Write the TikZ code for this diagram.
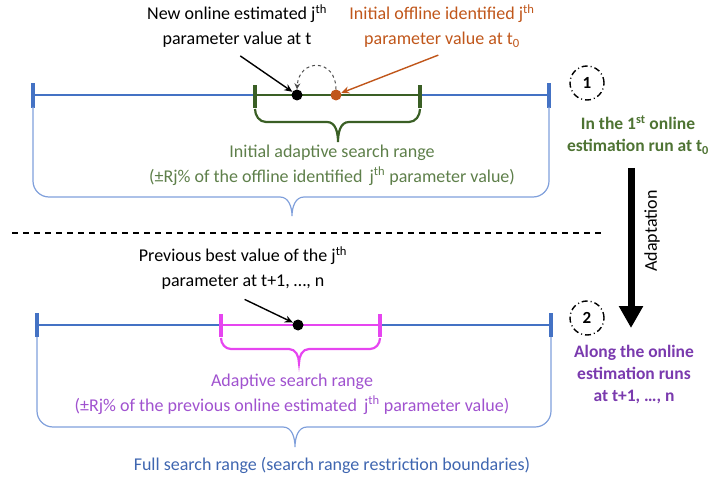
\documentclass[tikz,border=0pt]{standalone}
\usepackage{fontspec}
\setmainfont{Carlito}
\usetikzlibrary{arrows.meta}
\definecolor{lineblue}{HTML}{4472C4}
\definecolor{braceblue}{HTML}{7F9FDB}
\definecolor{textblue}{HTML}{3F66B0}
\definecolor{rangegreen}{HTML}{3A5F25}
\definecolor{textgreen}{HTML}{5E7F4A}
\definecolor{boldgreen}{HTML}{4E7333}
\definecolor{offbrown}{HTML}{C0561A}
\definecolor{rangemag}{HTML}{E645F0}
\definecolor{textpurple}{HTML}{A052CF}
\definecolor{boldpurple}{HTML}{7A3AAE}
\tikzset{
  lbl/.style={align=center, inner sep=0pt, font=\fontsize{18}{25}\selectfont},
  boldlbl/.style={lbl, font=\fontsize{17.5}{22}\selectfont\bfseries},
  dot/.style={circle, inner sep=0pt, minimum size=11pt},
  stepcirc/.style={circle, draw, line width=1.4pt, minimum size=34pt, inner sep=0pt,
    dash pattern=on 6pt off 3pt on 1pt off 3pt, font=\fontsize{17}{18}\selectfont\bfseries},
  fullline/.style={lineblue, line width=2.7pt},
  tick/.style={line width=3.2pt},
  thinbrace/.style={braceblue, line width=1.2pt},
  pointer/.style={line width=1.4pt, -{Stealth[length=8pt,width=7pt]}, shorten <=4pt}
}
\begin{document}
\begin{tikzpicture}[x=1pt, y=-1pt]
  \useasboundingbox (0,0) rectangle (714,478);
  % ---- step 1: first online estimation run ----
  \coordinate (fullA) at (33,95);
  \coordinate (fullB) at (549,95);
  \coordinate (initA) at (255,95);
  \coordinate (initB) at (420,95);
  \draw[fullline] (fullA) -- (fullB);
  \draw[fullline, tick] ([yshift=-13pt]fullA) -- ([yshift=12pt]fullA);
  \draw[fullline, tick] ([yshift=-13pt]fullB) -- ([yshift=12pt]fullB);
  \draw[rangegreen, line width=2.7pt] (initA) -- (initB);
  \draw[rangegreen, tick] ([yshift=-13pt]initA) -- ([yshift=10pt]initA);
  \draw[rangegreen, tick] ([yshift=-13pt]initB) -- ([yshift=10pt]initB);
  % dots on the range
  \node[dot, fill=black] (newdot) at (297,95) {};
  \node[dot, fill=offbrown] (offdot) at (336,95) {};
  \draw[dashed, line width=1pt, black!70, -{Stealth[length=6pt,width=6pt]}]
    (offdot.north) .. controls (336,58) and (299,58) .. (newdot.north);
  % labels of the dots
  \node[lbl] (newtxt) at (237,26) {New online estimated j\textsuperscript{th}\\parameter value at t};
  \node[lbl, text=offbrown] (offtxt) at (442,26) {Initial offline identified j\textsuperscript{th}\\parameter value at t\textsubscript{0}};
  \draw[pointer] (newtxt.south) ++(0,6) -- (newdot);
  \draw[pointer, offbrown] (offtxt.south) ++(0,6) -- (offdot);
  % green brace
  \draw[rangegreen, line width=2.2pt]
    (255,109) to[out=-90,in=180] (266,122) -- (327,122) to[out=0,in=90] (338,142)
    to[out=90,in=180] (349,122) -- (409,122) to[out=0,in=-90] (420,109);
  \node[lbl, text=textgreen] (inittxt) at (332,165) {Initial adaptive search range\\(±Rj\% of the offline identified\, j\textsuperscript{th} parameter value)};
  % full range brace (top)
  \draw[thinbrace]
    (33,107) -- (33,181) to[out=-90,in=180] (49,197) -- (280,197) to[out=0,in=90] (292,216)
    to[out=90,in=180] (304,197) -- (533,197) to[out=0,in=-90] (549,181) -- (549,107);
  % step marker 1
  \node[stepcirc] (stepone) at (587,83) {1};
  \node[boldlbl, text=boldgreen] (onetxt) at (638,135) {In the 1\textsuperscript{st} online\\estimation run at t\textsubscript{0}};
  % separator
  \coordinate (sepA) at (12,233);
  \coordinate (sepB) at (603,233);
  \draw[line width=1.6pt, dash pattern=on 6pt off 5pt] (sepA) -- (sepB);
  % adaptation arrow
  \coordinate (adaptA) at (631,168);
  \coordinate (adaptB) at (631,328);
  \draw[line width=7pt, -{Triangle[length=22pt,width=23pt]}] (adaptA) -- (adaptB);
  \node[lbl, rotate=90] (adapttxt) at (652,231) {Adaptation};
  % ---- step 2: following online estimation runs ----
  \coordinate (fullC) at (37,325);
  \coordinate (fullD) at (551,325);
  \coordinate (adapC) at (221,325);
  \coordinate (adapD) at (380,325);
  \draw[fullline] (fullC) -- (fullD);
  \draw[fullline, tick] ([yshift=-12pt]fullC) -- ([yshift=12pt]fullC);
  \draw[fullline, tick] ([yshift=-12pt]fullD) -- ([yshift=12pt]fullD);
  \draw[rangemag, line width=2.7pt] (adapC) -- (adapD);
  \draw[rangemag, tick] ([yshift=-12pt]adapC) -- ([yshift=11pt]adapC);
  \draw[rangemag, tick] ([yshift=-12pt]adapD) -- ([yshift=11pt]adapD);
  \node[dot, fill=black] (prevdot) at (298,325) {};
  \node[lbl] (prevtxt) at (243,268) {Previous best value of the j\textsuperscript{th}\\parameter at t+1, …, n};
  \draw[pointer] (prevtxt.south) ++(-2,8) -- (prevdot);
  % magenta brace
  \draw[rangemag, line width=2.2pt]
    (221,338) to[out=-90,in=180] (231,349) -- (289,349) to[out=0,in=90] (299,363)
    to[out=90,in=180] (309,349) -- (370,349) to[out=0,in=-90] (380,338);
  \node[lbl, text=textpurple] (adaptxt) at (292,394) {Adaptive search range\\(±Rj\% of the previous online estimated\, j\textsuperscript{th} parameter value)};
  % full range brace (bottom)
  \draw[thinbrace]
    (37,337) -- (37,411) to[out=-90,in=180] (53,427) -- (283,427) to[out=0,in=90] (295,447)
    to[out=90,in=180] (307,427) -- (535,427) to[out=0,in=-90] (551,411) -- (551,337);
  \node[lbl, text=textblue] (fulltxt) at (332,465) {Full search range (search range restriction boundaries)};
  % step marker 2
  \node[stepcirc] (steptwo) at (587,318) {2};
  \node[boldlbl, text=boldpurple] (twotxt) at (634,375) {Along the online\\estimation runs\\at t+1, …, n};
\end{tikzpicture}
\end{document}
